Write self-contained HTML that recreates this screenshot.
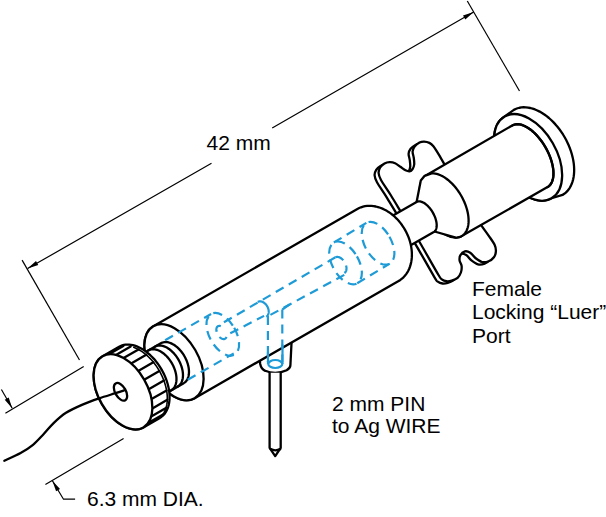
<!DOCTYPE html>
<html><head><meta charset="utf-8"><style>
html,body{margin:0;padding:0;background:#fff;width:606px;height:517px;overflow:hidden}
svg{display:block}
.o{fill:#fff;stroke:#000;stroke-width:2.3;stroke-linejoin:round;stroke-linecap:round}
.nf{fill:none}
.th{stroke-width:1.6}
.d{fill:none;stroke:#000;stroke-width:1.2}
.ar{fill:#000;stroke:none}
.h{fill:none;stroke:#1e9bd7;stroke-width:2.2;stroke-dasharray:9 6}
.hs{fill:none;stroke:#1e9bd7;stroke-width:2.2}
text{font-family:"Liberation Sans",sans-serif;font-size:21px;fill:#000}
</style></head><body>
<svg width="606" height="517" viewBox="0 0 606 517">
<path class="d" d="M467.3,1 L519.5,91"/>
<path class="d" d="M22.1,260.1 L79.5,360"/>
<path class="d" d="M27.6,268.6 L211.5,163.2 M272.2,128 L473.7,11.9"/>
<path class="ar" d="M27.6,268.6 L38.28,265.11 L35.99,261.12 Z"/>
<path class="ar" d="M473.7,11.9 L463.02,15.39 L465.31,19.38 Z"/>
<path class="d" d="M5.4,413.2 L83.7,366.4 M45.4,484.6 L123.6,438.5"/>
<path class="d" d="M1.4,389.5 L12.2,408.2"/>
<path class="ar" d="M12.2,408.2 L8.69,397.52 L4.71,399.82 Z"/>
<path class="d" d="M52.4,480.7 L63.5,499.2 L75.1,499.2"/>
<path class="ar" d="M52.4,480.7 L56.09,491.32 L60.03,488.95 Z"/>
<path class="o" d="M504.69,116.53 L503.13,117.54 L501.66,118.73 L500.32,120.08 L499.09,121.59 L497.99,123.25 L497.01,125.06 L496.17,127.01 L495.46,129.09 L494.9,131.29 L494.47,133.6 L494.19,136.01 L494.06,138.51 L494.07,141.1 L494.23,143.76 L494.53,146.47 L494.98,149.23 L495.57,152.03 L496.29,154.84 L497.16,157.67 L498.15,160.5 L499.28,163.32 L500.52,166.11 L501.89,168.86 L503.37,171.56 L504.95,174.21 L506.64,176.78 L508.41,179.27 L510.27,181.66 L512.21,183.95 L514.21,186.13 L516.27,188.18 L518.39,190.1 L520.54,191.88 L522.73,193.52 L524.94,195 L527.16,196.32 L529.39,197.47 L531.61,198.45 L533.82,199.25 L536.01,199.88 L538.16,200.32 L540.26,200.58 L542.32,200.66 L544.31,200.54 L546.23,200.25 L548.08,199.77 L549.84,199.11 L551.51,198.27 L562.55,194.92 L564.23,193.84 L565.8,192.58 L567.25,191.15 L568.57,189.55 L569.77,187.79 L570.83,185.88 L571.75,183.83 L572.52,181.64 L573.15,179.33 L573.63,176.91 L573.96,174.37 L574.13,171.75 L574.16,169.04 L574.02,166.26 L573.74,163.42 L573.3,160.53 L572.71,157.61 L571.97,154.67 L571.09,151.71 L570.07,148.76 L568.91,145.83 L567.62,142.92 L566.2,140.06 L564.67,137.24 L563.02,134.49 L561.26,131.82 L559.41,129.24 L557.46,126.75 L555.43,124.38 L553.33,122.12 L551.17,120 L548.95,118.01 L546.68,116.17 L544.37,114.49 L542.04,112.97 L539.7,111.62 L537.34,110.44 L534.99,109.44 L532.66,108.62 L530.34,108 L528.07,107.56 L525.83,107.32 L523.65,107.26 L521.53,107.41 L519.48,107.74 L517.51,108.26 L515.63,108.98 L513.85,109.88 Z" />
<ellipse class="o" cx="528.1" cy="157.4" rx="28.5" ry="47.1" transform="rotate(-29.8 528.1 157.4)" />
<path class="o" d="M400,219.3 C396.83,214.22 390.83,203.97 387,197.8 C383.17,191.63 379.07,186.05 377,182.3 C374.93,178.55 374.73,177.38 374.6,175.3 C374.47,173.22 375.22,171.37 376.2,169.8 C377.18,168.23 378.95,166.78 380.5,165.9 C382.05,165.02 383.73,164.57 385.5,164.5 C387.27,164.43 389.28,164.73 391.1,165.5 C392.92,166.27 394.67,167.92 396.4,169.1 C398.13,170.28 399.97,171.85 401.5,172.6 C403.03,173.35 404.42,173.82 405.6,173.6 C406.78,173.38 407.83,172.43 408.6,171.3 C409.37,170.17 410,168.63 410.2,166.8 C410.4,164.97 410.07,162.47 409.8,160.3 C409.53,158.13 408.47,155.72 408.6,153.8 C408.73,151.88 409.45,150.28 410.6,148.8 C411.75,147.32 413.92,145.72 415.5,144.9 C417.08,144.08 418.45,143.85 420.1,143.9 C421.75,143.95 423.85,144.43 425.4,145.2 C426.95,145.97 428.08,146.95 429.4,148.5 C430.72,150.05 431.98,152.4 433.3,154.5 C434.62,156.6 436.2,159.23 437.3,161.1 C438.4,162.97 436.78,160.5 439.9,165.7 C443.02,170.9 450.65,183.37 456,192.3 C461.35,201.23 468.33,213.25 472,219.3 C475.67,225.35 475.9,225.5 478,228.6 C480.1,231.7 482.5,234.82 484.6,237.9 C486.7,240.98 489.38,244.47 490.6,247.1 C491.82,249.73 492.02,251.62 491.9,253.7 C491.78,255.78 491.12,257.95 489.9,259.6 C488.68,261.25 486.58,262.82 484.6,263.6 C482.62,264.38 480.2,264.85 478,264.3 C475.8,263.75 473.37,261.85 471.4,260.3 C469.43,258.75 467.95,256.1 466.2,255 C464.45,253.9 462.55,253.25 460.9,253.7 C459.25,254.15 457.18,256.17 456.3,257.7 C455.42,259.23 455.38,261.15 455.6,262.9 C455.82,264.65 457.38,266.22 457.6,268.2 C457.82,270.18 457.57,272.82 456.9,274.8 C456.23,276.78 455.13,278.75 453.6,280.1 C452.07,281.45 449.55,282.33 447.7,282.9 C445.85,283.47 444.15,283.72 442.5,283.5 C440.85,283.28 439.13,282.63 437.8,281.6 C436.47,280.57 437.92,283.02 434.5,277.3 C431.08,271.58 422.05,255.47 417.3,247.3 C412.55,239.13 408.88,232.97 406,228.3 C403.12,223.63 403.17,224.38 400,219.3 Z" />
<path class="o" d="M404,217 C400.83,211.92 394.83,201.67 391,195.5 C387.17,189.33 383.07,183.75 381,180 C378.93,176.25 378.73,175.08 378.6,173 C378.47,170.92 379.22,169.07 380.2,167.5 C381.18,165.93 382.95,164.48 384.5,163.6 C386.05,162.72 387.73,162.27 389.5,162.2 C391.27,162.13 393.28,162.43 395.1,163.2 C396.92,163.97 398.67,165.62 400.4,166.8 C402.13,167.98 403.97,169.55 405.5,170.3 C407.03,171.05 408.42,171.52 409.6,171.3 C410.78,171.08 411.83,170.13 412.6,169 C413.37,167.87 414,166.33 414.2,164.5 C414.4,162.67 414.07,160.17 413.8,158 C413.53,155.83 412.47,153.42 412.6,151.5 C412.73,149.58 413.45,147.98 414.6,146.5 C415.75,145.02 417.92,143.42 419.5,142.6 C421.08,141.78 422.45,141.55 424.1,141.6 C425.75,141.65 427.85,142.13 429.4,142.9 C430.95,143.67 432.08,144.65 433.4,146.2 C434.72,147.75 435.98,150.1 437.3,152.2 C438.62,154.3 440.2,156.93 441.3,158.8 C442.4,160.67 440.78,158.2 443.9,163.4 C447.02,168.6 454.65,181.07 460,190 C465.35,198.93 472.33,210.95 476,217 C479.67,223.05 479.9,223.2 482,226.3 C484.1,229.4 486.5,232.52 488.6,235.6 C490.7,238.68 493.38,242.17 494.6,244.8 C495.82,247.43 496.02,249.32 495.9,251.4 C495.78,253.48 495.12,255.65 493.9,257.3 C492.68,258.95 490.58,260.52 488.6,261.3 C486.62,262.08 484.2,262.55 482,262 C479.8,261.45 477.37,259.55 475.4,258 C473.43,256.45 471.95,253.8 470.2,252.7 C468.45,251.6 466.55,250.95 464.9,251.4 C463.25,251.85 461.18,253.87 460.3,255.4 C459.42,256.93 459.38,258.85 459.6,260.6 C459.82,262.35 461.38,263.92 461.6,265.9 C461.82,267.88 461.57,270.52 460.9,272.5 C460.23,274.48 459.13,276.45 457.6,277.8 C456.07,279.15 453.55,280.03 451.7,280.6 C449.85,281.17 448.15,281.42 446.5,281.2 C444.85,280.98 443.13,280.33 441.8,279.3 C440.47,278.27 441.92,280.72 438.5,275 C435.08,269.28 426.05,253.17 421.3,245 C416.55,236.83 412.88,230.67 410,226 C407.12,221.33 407.17,222.08 404,217 Z" />
<path class="o" d="M426.71,174.95 L425.63,175.66 L424.64,176.49 L423.72,177.44 L422.9,178.52 L422.17,179.71 L421.53,181.01 L420.99,182.41 L420.55,183.92 L420.21,185.51 L419.97,187.2 L419.83,188.96 L419.8,190.79 L419.88,192.68 L420.06,194.63 L420.34,196.63 L420.72,198.66 L421.21,200.73 L421.79,202.81 L422.47,204.91 L423.24,207 L424.11,209.09 L425.05,211.17 L426.08,213.22 L427.19,215.24 L428.37,217.22 L429.62,219.14 L430.93,221.01 L432.3,222.81 L433.72,224.54 L435.18,226.19 L436.68,227.75 L438.22,229.21 L439.78,230.57 L441.36,231.82 L442.95,232.96 L444.54,233.99 L446.14,234.89 L447.72,235.66 L449.3,236.31 L450.85,236.82 L452.37,237.2 L453.85,237.45 L455.3,237.56 L456.7,237.53 L458.04,237.36 L459.32,237.06 L460.54,236.62 L461.69,236.05 L547.54,187.11 L548.53,186.45 L549.43,185.67 L550.25,184.77 L550.98,183.74 L551.63,182.6 L552.18,181.34 L552.63,179.97 L552.99,178.51 L553.25,176.94 L553.41,175.29 L553.46,173.56 L553.42,171.76 L553.28,169.89 L553.03,167.96 L552.69,165.98 L552.25,163.96 L551.71,161.9 L551.08,159.82 L550.36,157.73 L549.55,155.63 L548.66,153.54 L547.69,151.45 L546.64,149.39 L545.52,147.35 L544.33,145.36 L543.08,143.41 L541.78,141.52 L540.42,139.69 L539.02,137.93 L537.58,136.25 L536.11,134.65 L534.61,133.15 L533.09,131.75 L531.55,130.45 L530.01,129.26 L528.47,128.19 L526.93,127.24 L525.41,126.41 L523.91,125.72 L522.43,125.15 L520.99,124.71 L519.58,124.42 L518.21,124.25 L516.9,124.23 L515.64,124.34 L514.45,124.59 L513.32,124.98 L512.26,125.49 Z" />
<path class="o nf" d="M512.26,125.49 L513.32,124.98 L514.45,124.59 L515.64,124.34 L516.9,124.23 L518.21,124.25 L519.58,124.42 L520.99,124.71 L522.43,125.15 L523.91,125.72 L525.41,126.41 L526.93,127.24 L528.47,128.19 L530.01,129.26 L531.55,130.45 L533.09,131.75 L534.61,133.15 L536.11,134.65 L537.58,136.25 L539.02,137.93 L540.42,139.69 L541.78,141.52 L543.08,143.41 L544.33,145.36 L545.52,147.35 L546.64,149.39 L547.69,151.45 L548.66,153.54 L549.55,155.63 L550.36,157.73 L551.08,159.82 L551.71,161.9 L552.25,163.96 L552.69,165.98 L553.03,167.96 L553.28,169.89 L553.42,171.76 L553.46,173.56 L553.41,175.29 L553.25,176.94 L552.99,178.51 L552.63,179.97 L552.18,181.34 L551.63,182.6 L550.98,183.74 L550.25,184.77 L549.43,185.67 L548.53,186.45 L547.54,187.11" />
<path class="o" d="M416.6,201.99 L420.8,180.5 L424.7,175.8 L430.84,173.57 L432.24,173.45 L433.69,173.47 L435.19,173.64 L436.73,173.96 L438.31,174.41 L439.91,175.01 L441.53,175.74 L443.16,176.61 L444.8,177.6 L446.43,178.72 L448.06,179.97 L449.66,181.33 L451.25,182.79 L452.8,184.36 L454.31,186.03 L455.78,187.78 L457.19,189.61 L458.55,191.51 L459.84,193.48 L461.06,195.5 L462.2,197.56 L463.27,199.67 L464.25,201.79 L465.13,203.94 L465.93,206.09 L466.62,208.24 L467.22,210.37 L467.71,212.49 L468.09,214.57 L468.37,216.61 L468.54,218.6 L468.6,220.54 L468.55,222.4 L468.39,224.19 L468.12,225.9 L467.74,227.51 L467.26,229.02 L466.67,230.43 L465.98,231.73 L465.2,232.91 L464.32,233.96 L463.35,234.89 L462.29,235.68 L461.15,236.34 L459.93,236.86 L458.65,237.23 L457.3,237.47 L455.89,237.56 L434.52,231.5 Z" />
<path class="o" d="M364.54,231.81 L364.06,232.12 L363.61,232.51 L363.21,232.95 L362.85,233.45 L362.54,234.01 L362.27,234.62 L362.05,235.29 L361.87,236 L361.74,236.77 L361.66,237.57 L361.64,238.42 L361.65,239.3 L361.72,240.21 L361.84,241.15 L362.01,242.11 L362.22,243.1 L362.48,244.1 L362.79,245.11 L363.14,246.13 L363.53,247.16 L363.97,248.18 L364.44,249.19 L364.95,250.2 L365.5,251.19 L366.08,252.16 L366.69,253.11 L367.32,254.04 L367.98,254.93 L368.67,255.79 L369.37,256.6 L370.09,257.38 L370.82,258.11 L371.56,258.8 L372.31,259.43 L373.06,260 L373.81,260.53 L374.56,260.99 L375.31,261.39 L376.04,261.73 L376.76,262.01 L377.47,262.22 L378.15,262.36 L378.82,262.44 L379.46,262.45 L380.08,262.4 L380.66,262.27 L381.21,262.08 L381.73,261.83 L433.8,232.01 L434.28,231.69 L434.72,231.31 L435.12,230.87 L435.48,230.37 L435.8,229.81 L436.07,229.2 L436.29,228.53 L436.46,227.81 L436.59,227.05 L436.67,226.25 L436.7,225.4 L436.68,224.52 L436.61,223.61 L436.49,222.67 L436.33,221.7 L436.11,220.72 L435.85,219.72 L435.55,218.7 L435.19,217.68 L434.8,216.66 L434.37,215.64 L433.89,214.62 L433.38,213.62 L432.84,212.63 L432.26,211.65 L431.65,210.7 L431.01,209.78 L430.35,208.89 L429.67,208.03 L428.96,207.21 L428.25,206.44 L427.51,205.71 L426.77,205.02 L426.02,204.39 L425.27,203.81 L424.52,203.29 L423.77,202.83 L423.03,202.43 L422.29,202.09 L421.57,201.81 L420.87,201.6 L420.18,201.46 L419.51,201.38 L418.87,201.37 L418.26,201.42 L417.67,201.55 L417.12,201.73 L416.6,201.99 Z" />
<path class="o" d="M258.6,350 L259.6,358.9 L260.2,364 C261,368 263,370 265.2,370.8 C269,372.5 272,372.8 275.3,372.8 C279,372.8 283,372 286.6,370.2 C289,368.8 290.4,367 290.4,365.2 L291.9,335" />
<path class="o" d="M153.38,326.19 L152.03,327.06 L150.78,328.09 L149.62,329.26 L148.58,330.57 L147.64,332.01 L146.81,333.59 L146.1,335.29 L145.51,337.1 L145.04,339.02 L144.7,341.04 L144.48,343.15 L144.38,345.35 L144.42,347.61 L144.58,349.94 L144.86,352.32 L145.28,354.74 L145.81,357.19 L146.47,359.67 L147.24,362.15 L148.13,364.64 L149.12,367.12 L150.23,369.57 L151.44,371.99 L152.74,374.38 L154.13,376.71 L155.61,378.97 L157.17,381.17 L158.8,383.28 L160.5,385.31 L162.25,387.23 L164.05,389.05 L165.9,390.75 L167.78,392.33 L169.69,393.78 L171.61,395.1 L173.55,396.27 L175.49,397.3 L177.42,398.18 L179.34,398.91 L181.23,399.48 L183.09,399.88 L184.92,400.13 L186.7,400.21 L188.42,400.14 L190.08,399.9 L191.67,399.49 L193.19,398.93 L194.62,398.21 L398.62,281.01 L400.34,279.93 L401.96,278.69 L403.48,277.31 L404.88,275.8 L406.18,274.15 L407.35,272.38 L408.4,270.48 L409.31,268.48 L410.09,266.38 L410.74,264.19 L411.24,261.92 L411.61,259.57 L411.82,257.16 L411.9,254.7 L411.83,252.2 L411.61,249.66 L411.25,247.11 L410.75,244.55 L410.1,241.99 L409.32,239.44 L408.41,236.92 L407.36,234.43 L406.19,231.98 L404.9,229.59 L403.49,227.27 L401.98,225.03 L400.36,222.86 L398.65,220.8 L396.84,218.84 L394.96,216.99 L393,215.25 L390.98,213.65 L388.91,212.18 L386.79,210.85 L384.63,209.67 L382.44,208.64 L380.23,207.77 L378.01,207.05 L375.8,206.5 L373.59,206.11 L371.4,205.89 L369.24,205.83 L367.12,205.95 L365.04,206.23 L363.02,206.67 L361.06,207.28 L359.18,208.06 L357.38,208.99 Z" />
<ellipse class="o" cx="174" cy="362.2" rx="24.5" ry="41.5" transform="rotate(-29.8 174 362.2)" />
<path class="o" d="M128.57,361.74 L127.8,362.24 L127.08,362.82 L126.42,363.48 L125.81,364.22 L125.27,365.04 L124.79,365.92 L124.38,366.88 L124.03,367.89 L123.75,368.97 L123.54,370.1 L123.4,371.28 L123.33,372.51 L123.33,373.77 L123.4,375.07 L123.55,376.4 L123.76,377.75 L124.05,379.11 L124.4,380.49 L124.82,381.87 L125.31,383.25 L125.85,384.63 L126.46,385.99 L127.13,387.34 L127.85,388.66 L128.62,389.95 L129.45,391.2 L130.31,392.42 L131.22,393.59 L132.17,394.7 L133.15,395.77 L134.16,396.77 L135.19,397.7 L136.25,398.57 L137.32,399.37 L138.4,400.09 L139.49,400.73 L140.58,401.29 L141.67,401.77 L142.75,402.16 L143.82,402.46 L144.88,402.68 L145.91,402.8 L146.92,402.84 L147.9,402.78 L148.84,402.63 L149.75,402.4 L150.61,402.07 L151.43,401.66 L183.73,383.16 L184.5,382.66 L185.22,382.08 L185.88,381.42 L186.49,380.68 L187.03,379.86 L187.51,378.98 L187.92,378.02 L188.27,377.01 L188.55,375.93 L188.76,374.8 L188.9,373.62 L188.97,372.39 L188.97,371.13 L188.9,369.83 L188.75,368.5 L188.54,367.15 L188.25,365.79 L187.9,364.41 L187.48,363.03 L186.99,361.65 L186.45,360.27 L185.84,358.91 L185.17,357.56 L184.45,356.24 L183.68,354.95 L182.85,353.7 L181.99,352.48 L181.08,351.31 L180.13,350.2 L179.15,349.13 L178.14,348.13 L177.11,347.2 L176.05,346.33 L174.98,345.53 L173.9,344.81 L172.81,344.17 L171.72,343.61 L170.63,343.13 L169.55,342.74 L168.48,342.44 L167.42,342.22 L166.39,342.1 L165.38,342.06 L164.4,342.12 L163.46,342.27 L162.55,342.5 L161.69,342.83 L160.87,343.24 Z" />
<path class="o nf" d="M148.37,350.4 L149.19,349.99 L150.05,349.66 L150.96,349.43 L151.9,349.28 L152.88,349.22 L153.89,349.26 L154.92,349.38 L155.98,349.59 L157.05,349.9 L158.13,350.29 L159.22,350.77 L160.31,351.33 L161.4,351.97 L162.48,352.69 L163.55,353.48 L164.61,354.35 L165.64,355.29 L166.65,356.29 L167.63,357.35 L168.58,358.47 L169.49,359.64 L170.35,360.86 L171.18,362.11 L171.95,363.4 L172.67,364.72 L173.34,366.07 L173.95,367.43 L174.49,368.8 L174.98,370.19 L175.4,371.57 L175.75,372.95 L176.04,374.31 L176.25,375.66 L176.4,376.99 L176.47,378.29 L176.47,379.55 L176.4,380.78 L176.26,381.96 L176.05,383.09 L175.77,384.16 L175.42,385.18 L175.01,386.14 L174.53,387.02 L173.99,387.84 L173.38,388.58 L172.72,389.24 L172,389.82 L171.23,390.32" />
<path class="o nf" d="M154.87,346.67 L155.69,346.25 L156.55,345.93 L157.46,345.69 L158.4,345.54 L159.38,345.49 L160.39,345.52 L161.42,345.65 L162.48,345.86 L163.55,346.16 L164.63,346.55 L165.72,347.03 L166.81,347.59 L167.9,348.23 L168.98,348.95 L170.05,349.75 L171.11,350.62 L172.14,351.56 L173.15,352.56 L174.13,353.62 L175.08,354.74 L175.99,355.91 L176.85,357.12 L177.68,358.38 L178.45,359.67 L179.17,360.99 L179.84,362.33 L180.45,363.69 L180.99,365.07 L181.48,366.45 L181.9,367.83 L182.25,369.21 L182.54,370.58 L182.75,371.93 L182.9,373.25 L182.97,374.55 L182.97,375.82 L182.9,377.04 L182.76,378.22 L182.55,379.35 L182.27,380.43 L181.92,381.45 L181.51,382.4 L181.03,383.29 L180.49,384.1 L179.88,384.84 L179.22,385.5 L178.5,386.08 L177.73,386.58" />
<path class="o" d="M102.62,356.22 L101.28,357.09 L100.03,358.11 L98.88,359.27 L97.84,360.57 L96.9,362.01 L96.07,363.57 L95.36,365.25 L94.77,367.05 L94.29,368.95 L93.95,370.96 L93.72,373.05 L93.62,375.22 L93.65,377.46 L93.8,379.76 L94.07,382.12 L94.48,384.51 L95,386.94 L95.64,389.39 L96.4,391.85 L97.27,394.3 L98.26,396.75 L99.35,399.18 L100.54,401.57 L101.83,403.93 L103.2,406.23 L104.67,408.47 L106.21,410.63 L107.82,412.72 L109.5,414.72 L111.24,416.62 L113.02,418.41 L114.85,420.09 L116.72,421.65 L118.61,423.08 L120.52,424.38 L122.44,425.53 L124.36,426.54 L126.28,427.41 L128.18,428.12 L130.06,428.67 L131.91,429.07 L133.72,429.31 L135.49,429.39 L137.2,429.3 L138.85,429.06 L140.44,428.66 L141.95,428.1 L143.38,427.38 L159.88,417.88 L161.28,416.97 L162.59,415.92 L163.8,414.72 L164.91,413.39 L165.91,411.92 L166.79,410.32 L167.56,408.6 L168.21,406.78 L168.74,404.84 L169.14,402.81 L169.41,400.69 L169.55,398.5 L169.57,396.23 L169.46,393.9 L169.22,391.53 L168.85,389.11 L168.36,386.67 L167.74,384.21 L167,381.74 L166.15,379.27 L165.18,376.81 L164.1,374.38 L162.91,371.98 L161.63,369.63 L160.25,367.33 L158.78,365.09 L157.23,362.93 L155.6,360.85 L153.9,358.86 L152.15,356.98 L150.33,355.2 L148.48,353.54 L146.58,352 L144.65,350.59 L142.7,349.31 L140.74,348.18 L138.77,347.19 L136.81,346.36 L134.85,345.68 L132.92,345.15 L131.01,344.79 L129.14,344.58 L127.32,344.54 L125.55,344.65 L123.83,344.93 L122.19,345.37 L120.61,345.97 L119.12,346.72 Z" />
<path class="o" d="M148.16,423.03 L162.65,414.68"/>
<path class="o" d="M151.23,416.55 L165.95,408.07"/>
<path class="o" d="M152.38,408.38 L167.3,399.79"/>
<path class="o" d="M151.52,399.09 L166.6,390.41"/>
<path class="o" d="M148.73,389.3 L163.89,380.56"/>
<path class="o" d="M144.17,379.67 L159.37,370.92"/>
<path class="o" d="M138.18,370.88 L153.34,362.14"/>
<path class="o" d="M131.15,363.51 L146.22,354.83"/>
<path class="o" d="M123.56,358.07 L138.48,349.47"/>
<path class="o" d="M115.94,354.93 L130.66,346.44"/>
<path class="o" d="M108.8,354.3 L123.29,345.95"/>
<path class="o nf th" d="M133.77,347.36 L135.27,347.94 L136.78,348.61 L138.29,349.37 L139.8,350.22 L141.31,351.15 L142.8,352.16 L144.28,353.26 L145.74,354.42 L147.18,355.67 L148.59,356.98 L149.98,358.36 L151.33,359.8 L152.65,361.31 L153.93,362.87 L155.17,364.48 L156.36,366.14 L157.5,367.85 L158.59,369.59 L159.63,371.37 L160.61,373.19 L161.53,375.02 L162.4,376.88 L163.19,378.76 L163.92,380.65 L164.59,382.54 L165.18,384.44 L165.71,386.34 L166.16,388.23 L166.54,390.11 L166.85,391.97 L167.08,393.81 L167.23,395.62 L167.31,397.41 L167.32,399.16 L167.24,400.87 L167.1,402.53 L166.87,404.15 L166.57,405.72 L166.2,407.23 L165.76,408.68 L165.24,410.06 L164.65,411.38 L163.99,412.63 L163.27,413.81 L162.47,414.91 L161.62,415.93 L160.7,416.87 L159.73,417.73" />
<ellipse class="o" cx="123" cy="391.8" rx="24.4" ry="41" transform="rotate(-29.8 123 391.8)" />
<ellipse class="o" cx="120.5" cy="391.8" rx="5.3" ry="9.7" transform="rotate(-29.8 120.5 391.8)" />
<path class="o nf" d="M4.3,460.8 C7.02,459.5 15.82,455.67 20.6,453 C25.38,450.33 29.22,447.88 33,444.8 C36.78,441.72 39.87,438.12 43.3,434.5 C46.73,430.88 49.82,426.72 53.6,423.1 C57.38,419.48 61.18,415.88 66,412.8 C70.82,409.72 77,407 82.5,404.6 C88,402.2 93.5,400.3 99,398.4 C104.5,396.5 111.33,394.53 115.5,393.2 C119.67,391.87 122.58,390.87 124,390.4" />
<path class="o" d="M269.6,372.8 L269.6,447.8 L275.2,456.1 L280.7,447.8 L280.7,372.8"/>
<path class="o nf" d="M270.7,449.1 Q275.2,451.5 280.2,449.1"/>
<g><path class="h" d="M165.12,340.3 L211.11,313.96"/>
<path class="h" d="M187.73,379.78 L233.73,353.44"/>
<ellipse class="h" cx="222.79" cy="334.35" rx="13.16" ry="23.5" transform="rotate(-29.8 222.79 334.35)" />
<path class="h" d="M220.8,326.19 L220.35,326.04 L219.9,325.94 L219.47,325.9 L219.06,325.91 L218.66,325.97 L218.29,326.08 L217.94,326.24 L217.62,326.45 L217.34,326.71 L217.08,327.02 L216.86,327.36 L216.67,327.75 L216.53,328.18 L216.42,328.64 L216.36,329.13 L216.33,329.65 L216.35,330.19 L216.4,330.75 L216.5,331.32 L216.63,331.9 L216.81,332.49 L217.02,333.08 L217.27,333.66 L217.55,334.23 L217.86,334.79 L218.2,335.33 L218.57,335.85 L218.96,336.34 L219.36,336.81 L219.79,337.23 L220.23,337.62 L220.68,337.97 L221.14,338.28 L221.6,338.54 L222.06,338.75 L222.51,338.92 L222.96,339.03 L223.39,339.09 L223.81,339.1 L224.21,339.06 L224.59,338.96 L224.95,338.82 L225.28,338.62 L225.58,338.38 L225.84,338.09 L226.08,337.75 L226.27,337.37 L226.43,336.96" />
<path class="h" d="M223.95,322.28 L335.39,257.3"/>
<path class="h" d="M230.26,333.3 L264.08,315.89"/>
<path class="h" d="M270.43,314.9 L345.18,274.4"/>
<path class="h" d="M335.44,257.39 L335.77,257.22 L336.11,257.09 L336.47,257 L336.85,256.94 L337.24,256.91 L337.64,256.92 L338.04,256.97 L338.46,257.05 L338.89,257.16 L339.31,257.31 L339.74,257.5 L340.18,257.71 L340.61,257.96 L341.03,258.24 L341.46,258.55 L341.87,258.89 L342.28,259.26 L342.68,259.65 L343.06,260.06 L343.43,260.5 L343.79,260.95 L344.13,261.43 L344.45,261.92 L344.76,262.42 L345.04,262.94 L345.3,263.47 L345.54,264 L345.75,264.54 L345.94,265.08 L346.1,265.62 L346.24,266.16 L346.34,266.7 L346.43,267.23 L346.48,267.75 L346.5,268.26 L346.5,268.76 L346.47,269.24 L346.41,269.71 L346.32,270.15 L346.21,270.57 L346.07,270.98 L345.9,271.35 L345.71,271.7 L345.49,272.02 L345.25,272.32 L344.98,272.58 L344.69,272.81 L344.39,273.01" />
<ellipse class="h" cx="345.52" cy="262.91" rx="13.16" ry="23.5" transform="rotate(-29.8 345.52 262.91)" />
<ellipse class="h" cx="378.05" cy="243.24" rx="13.16" ry="23.5" transform="rotate(-29.8 378.05 243.24)" />
<path class="h" d="M333.84,242.52 L366.37,222.85"/>
<path class="h" d="M357.2,283.3 L389.73,263.64"/>
<path class="hs" d="M257.78,301.92 L258.13,301.74 L258.49,301.6 L258.87,301.48 L259.27,301.4 L259.67,301.36 L260.09,301.34 L260.51,301.37 L260.94,301.42 L261.38,301.51 L261.82,301.63 L262.26,301.79 L262.69,301.98 L263.13,302.19 L263.56,302.44 L263.98,302.72 L264.4,303.03 L264.8,303.36 L265.19,303.72 L265.57,304.11 L265.94,304.51 L266.28,304.94 L266.61,305.38 L266.92,305.84 L267.21,306.32 L267.47,306.81 L267.71,307.31 L267.93,307.81 L268.12,308.33 L268.29,308.85 L268.43,309.37 L268.54,309.89 L268.62,310.41 L268.68,310.92 L268.7,311.42 L268.7,311.92 L268.67,312.41 L268.61,312.88 L268.52,313.34 L268.4,313.78 L268.26,314.2 L268.09,314.6 L267.9,314.97 L267.67,315.33 L267.43,315.65 L267.16,315.95 L266.87,316.22 L266.56,316.47 L266.22,316.68" />
<path class="h" d="M267.9,316 L267.9,362 M282.3,309.5 L290,304.2 M282.3,309.5 L282.3,362"/>
<ellipse class="hs" cx="275.3" cy="364" rx="7" ry="4"/>
<path class="hs" d="M268,352 L268,364 M282.5,344.5 L282.5,364"/></g>
<text x="206.5" y="149.8">42 mm</text>
<text x="472" y="295.7">Female</text>
<text x="472" y="318.7">Locking “Luer”</text>
<text x="472" y="342.8">Port</text>
<text x="332" y="410.8">2 mm PIN</text>
<text x="332" y="432.8">to Ag WIRE</text>
<text x="87" y="505.6">6.3 mm DIA.</text>
</svg>
</body></html>
